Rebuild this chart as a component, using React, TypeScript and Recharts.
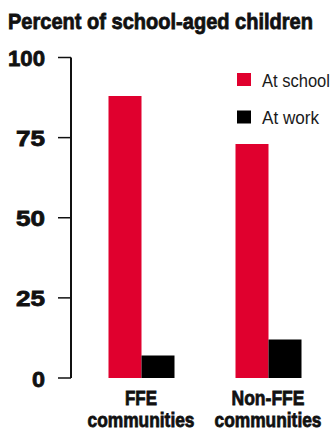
import { BarChart, Bar, XAxis, YAxis } from "recharts";

const categories = ["FFE communities", "Non-FFE communities"];
const atSchool = [88, 73];
const atWork = [7, 12];
const yTicks = [0, 25, 50, 75, 100];

const RED = "#e0002e";
const FONT = "'Liberation Sans', Arial, sans-serif";

const data = categories.map((name, i) => ({
  name,
  school: atSchool[i],
  work: atWork[i],
}));

// condensed look: squeeze regular glyphs to a fixed width per string
const CAT_WIDTHS: Record<string, number> = {
  FFE: 32,
  "Non-FFE": 73,
  communities: 107,
};
const TICK_WIDTHS: Record<number, number> = { 0: 13, 25: 29, 50: 29, 75: 29, 100: 37 };

// thicker strokes so the squeezed bold text reads as a heavy face
const heavy = { stroke: "#111", strokeWidth: 0.8, paintOrder: "stroke" } as const;

function CategoryTick(props: any) {
  const { x, y, payload } = props;
  const words = String(payload.value).split(" ");
  const first = words[0];
  const rest = words.slice(1).join(" ");
  // y arrives below the default 6px tick + 2px margin
  const base = y - 8;
  return (
    <g fontFamily={FONT} fontWeight="bold" fontSize={21} fill="#111" {...heavy}>
      <text
        x={x - CAT_WIDTHS[first] / 2}
        y={base + 27}
        textLength={CAT_WIDTHS[first]}
        lengthAdjust="spacingAndGlyphs"
      >
        {first}
      </text>
      <text
        x={x - CAT_WIDTHS[rest] / 2}
        y={base + 48.5}
        textLength={CAT_WIDTHS[rest]}
        lengthAdjust="spacingAndGlyphs"
      >
        {rest}
      </text>
    </g>
  );
}

function ValueTick(props: any) {
  const { y, payload } = props;
  const w = TICK_WIDTHS[payload.value];
  return (
    <text
      x={45 - w}
      y={y + 8.5}
      textLength={w}
      lengthAdjust="spacingAndGlyphs"
      fontFamily={FONT}
      fontWeight="bold"
      fontSize={22.5}
      fill="#111"
      {...heavy}
    >
      {payload.value}
    </text>
  );
}

function Overlay() {
  const items = [
    { label: "At school", color: RED, y: 73, w: 68 },
    { label: "At work", color: "#000", y: 110.5, w: 57 },
  ];
  return (
    <svg
      width={335}
      height={429}
      style={{ position: "absolute", left: 0, top: 0, pointerEvents: "none" }}
    >
      <text
        x={8}
        y={29}
        textLength={305}
        lengthAdjust="spacingAndGlyphs"
        fontFamily={FONT}
        fontWeight="bold"
        fontSize={22.5}
        fill="#111"
        {...heavy}
      >
        Percent of school-aged children
      </text>
      {items.map((it) => (
        <g key={it.label}>
          <rect x={237} y={it.y} width={14} height={13} fill={it.color} />
          <text
            x={262}
            y={it.y + 13.5}
            textLength={it.w}
            lengthAdjust="spacingAndGlyphs"
            fontFamily={FONT}
            fontSize={18.5}
            fill="#1a1a1a"
          >
            {it.label}
          </text>
        </g>
      ))}
    </svg>
  );
}

export default function App() {
  return (
    <div style={{ position: "absolute", left: 0, top: 0, width: 335, height: 429, background: "#fff" }}>
      <BarChart
        width={335}
        height={429}
        data={data}
        margin={{ top: 57.5, right: 3.5, bottom: 0, left: 0 }}
        barGap={0}
        barSize={33}
      >
        <YAxis
          width={71}
          domain={[0, 100]}
          ticks={yTicks}
          axisLine={{ stroke: "#111", strokeWidth: 2 }}
          tickLine={{ stroke: "#111", strokeWidth: 1.5 }}
          tickSize={13}
          tick={<ValueTick />}
          interval={0}
        />
        <XAxis
          dataKey="name"
          height={51}
          axisLine={false}
          tickLine={false}
          padding={{ left: 6.5, right: 0 }}
          tick={<CategoryTick />}
          interval={0}
        />
        <Bar dataKey="school" fill={RED} isAnimationActive={false} />
        <Bar dataKey="work" fill="#000" isAnimationActive={false} />
      </BarChart>
      <Overlay />
    </div>
  );
}
